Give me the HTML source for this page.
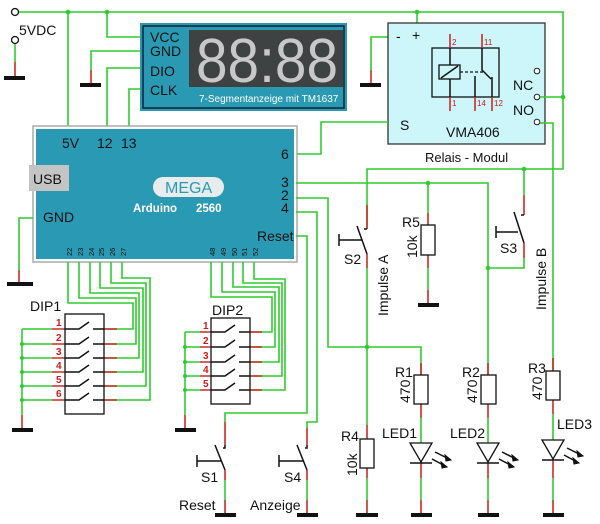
<!DOCTYPE html>
<html><head><meta charset="utf-8"><style>
html,body{margin:0;padding:0;background:#fff;width:600px;height:524px;overflow:hidden}
svg{display:block;font-family:"Liberation Sans",Arial,sans-serif}
.w{stroke:#2ecc2e;stroke-width:1.6;fill:none}
.r{stroke:#cc2a2a;stroke-width:1.6;fill:none}
.k{stroke:#111;stroke-width:1.5;fill:none}
.g{stroke:#111;stroke-width:4}
.d{fill:#2ecc2e}
.t{font-size:14px;fill:#111}
.rn{font-size:10px;fill:#cc1a1a;font-weight:bold}
</style></head><body>
<svg width="600" height="524" viewBox="0 0 600 524">
<!-- top rail -->
<path class="w" d="M18 12H563V169H367V229"/>
<circle cx="15" cy="12" r="3.5" fill="#fff" stroke="#111" stroke-width="1.3"/>
<circle cx="15" cy="40" r="3.5" fill="#fff" stroke="#111" stroke-width="1.3"/>
<text x="19" y="35" class="t">5VDC</text>
<path class="w" d="M15 44V62"/><path class="r" d="M15 62V77"/><path class="g" d="M4 78H25"/>
<circle cx="68" cy="12" r="2.3" class="d"/><circle cx="107" cy="12" r="2.3" class="d"/><circle cx="417" cy="12" r="2.3" class="d"/>
<path class="w" d="M68 12V127M107 12V37H141M141 51H91V70"/><path class="r" d="M91 70V84"/><path class="g" d="M80 85H101"/>
<path class="w" d="M141 68H107V127M141 89H129V127"/>
<!-- display -->
<rect x="140" y="23" width="207" height="88" fill="#2a9ab4"/>
<rect x="143" y="26" width="201" height="82" fill="none" stroke="#123" stroke-width="1.5"/>
<rect x="189" y="30" width="154" height="57" fill="#3f4243"/>
<text x="196" y="82" font-size="62" fill="#c8c8c8" textLength="142" lengthAdjust="spacingAndGlyphs">88:88</text>
<text x="199" y="102" font-size="10" fill="#fff">7-Segmentanzeige mit TM1637</text>
<text x="150" y="42" class="t">VCC</text><text x="150" y="56" class="t">GND</text><text x="150" y="76" class="t">DIO</text><text x="150" y="95" class="t">CLK</text>
<!-- relay -->
<path class="w" d="M417 12V24M388 37H371V70"/><path class="r" d="M371 70V84"/><path class="g" d="M360 85H381"/>
<rect x="388" y="23" width="157" height="121" fill="#ccf6fa" stroke="#333" stroke-width="1.3"/>
<text x="396" y="41" class="t">-</text><text x="412" y="40" class="t">+</text>
<rect x="432" y="48" width="67" height="49" fill="none" stroke="#111" stroke-width="1.3"/>
<path class="r" d="M450 34V48M450 97V111M482 34V48M475 97V111M492 97V111"/>
<path class="k" d="M450 48V65M450 79V97M482 48V70L491 79M492 77V97M475 76V97"/>
<rect x="439" y="65" width="21" height="14" fill="none" stroke="#111" stroke-width="1.3"/>
<path class="k" d="M441 78L458 66"/>
<path d="M460 72H484" stroke="#111" stroke-width="1.3" stroke-dasharray="3,2"/>
<g font-size="8" fill="#cc1a1a"><text x="452" y="45">2</text><text x="484" y="45">11</text><text x="452" y="106">1</text><text x="477" y="106">14</text><text x="494" y="106">12</text></g>
<circle cx="537" cy="71" r="2.8" fill="#fff" stroke="#222"/><circle cx="537" cy="97" r="2.8" fill="#fff" stroke="#222"/><circle cx="537" cy="122" r="2.8" fill="#fff" stroke="#222"/>
<text x="513" y="90" class="t">NC</text><text x="513" y="115" class="t">NO</text>
<text x="400" y="130" class="t">S</text><text x="446" y="137" class="t">VMA406</text>
<text x="425" y="162" font-size="13" fill="#111">Relais - Modul</text>
<path class="w" d="M540 97H563M540 123H553V371"/><circle cx="563" cy="97" r="2.3" class="d"/>
<path class="w" d="M388 122H321V154H296"/>
<!-- arduino -->
<rect x="33" y="126" width="264" height="136" fill="#fff" stroke="#aaa" stroke-width="1.5"/>
<rect x="36" y="129" width="258" height="130" fill="#2a9ab4"/>
<rect x="29" y="165" width="40" height="26" fill="#c4c4c4"/>
<text x="33" y="184" class="t">USB</text>
<text x="62" y="148" class="t">5V</text><text x="97" y="148" class="t">12</text><text x="121" y="148" class="t">13</text>
<text x="281" y="159" class="t">6</text><text x="281" y="187" class="t">3</text><text x="281" y="200" class="t">2</text><text x="281" y="213" class="t">4</text>
<text x="257" y="241" class="t">Reset</text><text x="43" y="222" class="t">GND</text>
<rect x="153" y="177" width="71" height="20" rx="10" fill="#e8ecec"/>
<text x="165" y="193" font-size="16" fill="#2a9ab4">MEGA</text>
<text x="133" y="212" font-size="11.5" font-weight="bold" fill="#fff">Arduino</text><text x="196" y="212" font-size="11.5" font-weight="bold" fill="#fff">2560</text>
<g font-size="7.5" fill="#111">
<text transform="translate(72,256) rotate(-90)">22</text><text transform="translate(83,256) rotate(-90)">23</text><text transform="translate(94,256) rotate(-90)">24</text><text transform="translate(104,256) rotate(-90)">25</text><text transform="translate(115,256) rotate(-90)">26</text><text transform="translate(126,256) rotate(-90)">27</text>
<text transform="translate(215,256) rotate(-90)">48</text><text transform="translate(226,256) rotate(-90)">49</text><text transform="translate(237,256) rotate(-90)">50</text><text transform="translate(247,256) rotate(-90)">51</text><text transform="translate(258,256) rotate(-90)">52</text>
</g>
<path class="w" d="M33 218H19V270"/><path class="r" d="M19 270V283"/><path class="g" d="M7 284H33"/>
<!-- DIP1 wires -->
<path class="w" d="M68 262V303H133V329H104M79 262V298H136V344H104M90 262V293H139V358H104M100 262V288H143V372H104M111 262V283H146V386H104M122 262V278H150V400H104"/>
<path class="w" d="M22 329V415"/><path class="r" d="M22 415V429"/><path class="g" d="M12 430H33"/>
<g class="w"><path d="M22 329H52M22 344H52M22 358H52M22 372H52M22 386H52M22 400H52"/></g>
<g class="r"><path d="M52 329H65M52 344H65M52 358H65M52 372H65M52 386H65M52 400H65M104 329H117M104 344H117M104 358H117M104 372H117M104 386H117M104 400H117"/></g>
<g class="d"><circle cx="22" cy="344" r="2"/><circle cx="22" cy="358" r="2"/><circle cx="22" cy="372" r="2"/><circle cx="22" cy="386" r="2"/><circle cx="22" cy="400" r="2"/></g>
<rect x="65" y="314" width="39" height="100" fill="#fff" stroke="#111" stroke-width="1.3"/>
<g class="k"><path d="M65 329H79L89 322M93 329H104M65 344H79L89 337M93 344H104M65 358H79L89 351M93 358H104M65 372H79L89 365M93 372H104M65 386H79L89 379M93 386H104M65 400H79L89 393M93 400H104"/></g>
<g class="rn"><text x="56" y="326">1</text><text x="56" y="341">2</text><text x="56" y="355">3</text><text x="56" y="369">4</text><text x="56" y="383">5</text><text x="56" y="397">6</text></g>
<text x="30" y="311" class="t">DIP1</text>
<!-- DIP2 -->
<path class="w" d="M211 262V297H272V332H250M222 262V292H275V347H250M233 262V287H279V362H250M243 262V283H282V376H250M254 262V279H285V390H250"/>
<path class="w" d="M185 332V415"/><path class="r" d="M185 415V429"/><path class="g" d="M175 430H196"/>
<g class="w"><path d="M185 332H200M185 347H200M185 362H200M185 376H200M185 390H200"/></g>
<g class="r"><path d="M200 332H211M200 347H211M200 362H211M200 376H211M200 390H211M250 332H262M250 347H262M250 362H262M250 376H262M250 390H262"/></g>
<g class="d"><circle cx="185" cy="347" r="2"/><circle cx="185" cy="362" r="2"/><circle cx="185" cy="376" r="2"/><circle cx="185" cy="390" r="2"/></g>
<rect x="211" y="318" width="39" height="86" fill="#fff" stroke="#111" stroke-width="1.3"/>
<g class="k"><path d="M211 332H225L235 325M239 332H250M211 347H225L235 340M239 347H250M211 362H225L235 355M239 362H250M211 376H225L235 369M239 376H250M211 390H225L235 383M239 390H250"/></g>
<g class="rn"><text x="203" y="329">1</text><text x="203" y="344">2</text><text x="203" y="359">3</text><text x="203" y="373">4</text><text x="203" y="387">5</text></g>
<text x="212" y="315" class="t">DIP2</text>
<!-- Reset/pin4 -> S1,S4 -->
<path class="w" d="M296 236H307V413H225V422M296 212H317V422H307V428"/>
<path class="r" d="M225 422V445M307 428V445"/>
<path class="k" d="M225 445V448H223M215 445L225 470M197 455V467M197 461H221M307 445V448H305M297 445L307 470M279 455V467M279 461H303"/>
<path class="r" d="M225 470V480M307 470V480M225 500V513M307 500V513"/><path class="w" d="M225 480V500M307 480V500"/>
<path class="g" d="M215 515H236M297 515H318"/>
<text x="201" y="482" class="t">S1</text><text x="284" y="482" class="t">S4</text>
<text x="179" y="510" class="t">Reset</text><text x="250" y="510" class="t">Anzeige</text>
<!-- pin3 line -->
<path class="w" d="M296 183H488V375M296 198H328V347H421V375"/>
<circle cx="428" cy="183" r="2.3" class="d"/><circle cx="367" cy="347" r="2.3" class="d"/><circle cx="488" cy="268" r="2.3" class="d"/><circle cx="524" cy="169" r="2.3" class="d"/>
<!-- S2 -->
<path class="r" d="M367 205V229M367 254V268"/>
<path class="k" d="M367 229H364M357 226L367 254M339 234V246M339 240H362"/>
<path class="w" d="M367 268V425"/><path class="r" d="M367 425V439M367 468V478M367 500V513"/><path class="w" d="M367 478V500"/>
<rect x="360" y="439" width="14" height="29" fill="#fff" stroke="#111" stroke-width="1.3"/>
<text x="341" y="441" class="t">R4</text><text transform="translate(357,476) rotate(-90)" class="t">10k</text>
<path class="g" d="M356 515H378"/>
<text x="344" y="264" class="t">S2</text><text transform="translate(388,316) rotate(-90)" class="t">Impulse A</text>
<!-- R5 -->
<path class="w" d="M428 183V213"/><path class="r" d="M428 213V225M428 255V268M428 290V303"/><path class="w" d="M428 268V290"/>
<rect x="421" y="225" width="14" height="30" fill="#fff" stroke="#111" stroke-width="1.3"/>
<text x="402" y="227" class="t">R5</text><text transform="translate(417,258) rotate(-90)" class="t">10k</text>
<path class="g" d="M418 305H439"/>
<!-- S3 -->
<path class="w" d="M524 169V195"/><path class="r" d="M524 195V215M524 243V258"/>
<path class="k" d="M524 215H521M514 212L524 243M496 226V238M496 232H518"/>
<path class="w" d="M524 258V268H488"/>
<text x="500" y="253" class="t">S3</text><text transform="translate(546,310) rotate(-90)" class="t">Impulse B</text>
<!-- R1 LED1 -->
<path class="r" d="M421 363V375M421 404V418M421 462V478M421 500V513"/><path class="w" d="M421 418V443M421 478V500"/>
<rect x="414" y="375" width="14" height="29" fill="#fff" stroke="#111" stroke-width="1.3"/>
<text x="395" y="377" class="t">R1</text><text transform="translate(410,403) rotate(-90)" class="t">470</text>
<path d="M410 443H432L421 462Z" fill="#fff" stroke="#111" stroke-width="1.3"/><path class="k" d="M410 463H432"/>
<text x="382" y="438" class="t">LED1</text>
<path class="k" d="M435 452L451 460M432 459L447 467"/><path d="M451 460L445 455L446 461ZM447 467L441 462L442 468Z" fill="#111" stroke="#111"/>
<path class="g" d="M411 515H432"/>
<!-- R2 LED2 -->
<path class="r" d="M488 363V375M488 404V418M488 462V478M488 500V513"/><path class="w" d="M488 418V443M488 478V500"/>
<rect x="481" y="375" width="15" height="29" fill="#fff" stroke="#111" stroke-width="1.3"/>
<text x="462" y="377" class="t">R2</text><text transform="translate(477,403) rotate(-90)" class="t">470</text>
<path d="M477 443H499L488 462Z" fill="#fff" stroke="#111" stroke-width="1.3"/><path class="k" d="M477 463H499"/>
<text x="450" y="438" class="t">LED2</text>
<path class="k" d="M502 452L518 460M499 459L514 467"/><path d="M518 460L512 455L513 461ZM514 467L508 462L509 468Z" fill="#111" stroke="#111"/>
<path class="g" d="M478 515H499"/>
<!-- R3 LED3 -->
<path class="r" d="M553 358V371M553 400V414M553 460V478M553 500V513"/><path class="w" d="M553 414V440M553 478V500"/>
<rect x="546" y="371" width="14" height="29" fill="#fff" stroke="#111" stroke-width="1.3"/>
<text x="528" y="373" class="t">R3</text><text transform="translate(542,400) rotate(-90)" class="t">470</text>
<path d="M542 440H564L553 459Z" fill="#fff" stroke="#111" stroke-width="1.3"/><path class="k" d="M542 460H564"/>
<text x="557" y="429" class="t">LED3</text>
<path class="k" d="M567 448L583 456M564 455L579 463"/><path d="M583 456L577 451L578 457ZM579 463L573 458L574 464Z" fill="#111" stroke="#111"/>
<path class="g" d="M543 515H564"/>
</svg>
</body></html>
